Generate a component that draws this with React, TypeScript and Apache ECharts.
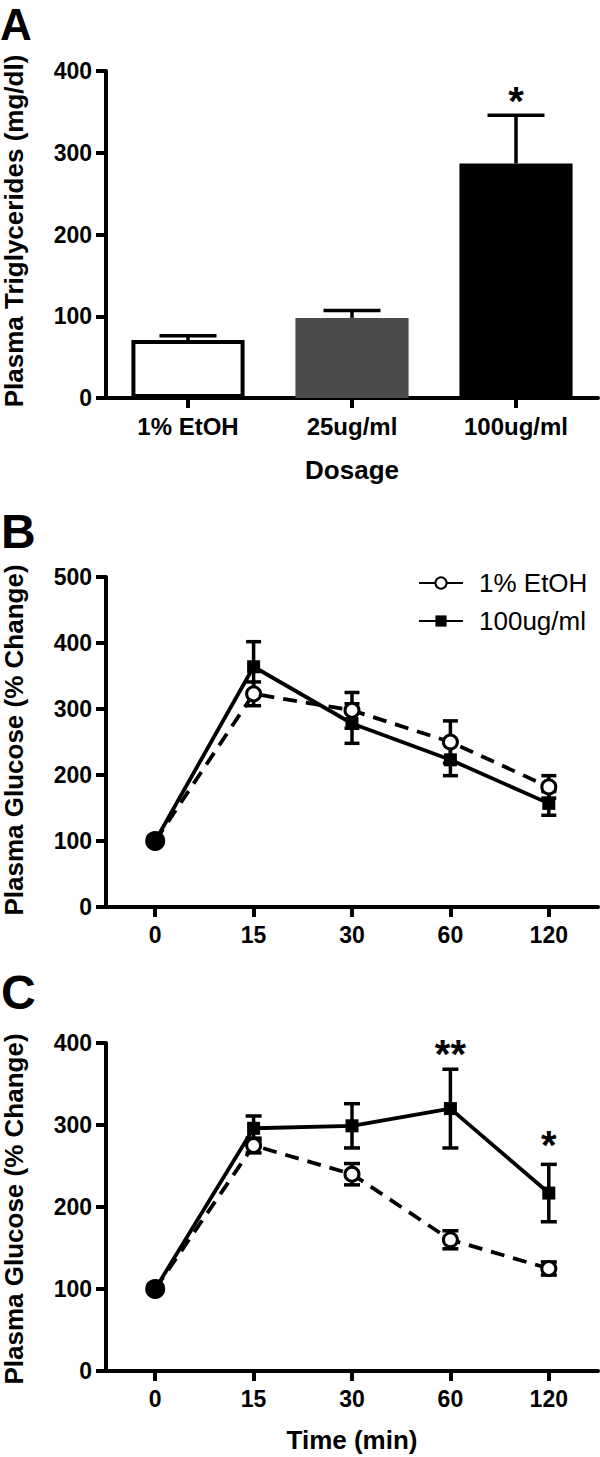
import React, { useEffect, useRef } from 'react';
import * as echarts from 'echarts';

// ---------- Panel A data ----------
const dosageCats = ['1% EtOH', '25ug/ml', '100ug/ml'];
const trigMean = [71, 98, 287];
const trigSem = [5, 9, 59];
const barColors = ['#ffffff', '#4b4b4b', '#000000'];
const sigA = [{ cat: 2, y: 363, text: '*' }];

// ---------- Panels B & C data ----------
const timeCats = ['0', '15', '30', '60', '120'];
const etohB = [100, 323, 298, 250, 182];
const etohBErr = [0, 18, 27, 32, 17];
const treatB = [100, 364, 278, 223, 157];
const treatBErr = [0, 38, 30, 24, 18];

const etohC = [100, 275, 240, 160, 125];
const etohCErr = [0, 9, 13, 11, 8];
const treatC = [100, 296, 299, 320, 217];
const treatCErr = [0, 15, 27, 48, 35];
const sigC = [
  { cat: 3, y: 387, text: '**' },
  { cat: 4, y: 276, text: '*' },
];

const FONT = '"Liberation Sans", Arial, Helvetica, sans-serif';

const axisLine = { show: true, lineStyle: { color: '#000', width: 4 } };
const axisTick = { show: true, length: 10, alignWithLabel: true, lineStyle: { color: '#000', width: 4 } };

function errorSeries(gridIdx: number, means: number[], errs: number[], cap: number, both: boolean) {
  return {
    type: 'custom',
    xAxisIndex: gridIdx,
    yAxisIndex: gridIdx,
    z: 2,
    silent: true,
    data: means.map((m, i) => [i, both ? m - errs[i] : m, m + errs[i]]),
    encode: { x: 0, y: [1, 2] },
    renderItem: (params: any, api: any) => {
      const x = api.value(0);
      const lo = api.value(1);
      const hi = api.value(2);
      if (hi === lo) return { type: 'group', children: [] };
      const pHi = api.coord([x, hi]);
      const pLo = api.coord([x, lo]);
      const hw = cap / 2;
      const st = { stroke: '#000', lineWidth: 3.5 };
      const children: any[] = [
        { type: 'line', shape: { x1: pHi[0], y1: pHi[1], x2: pLo[0], y2: pLo[1] }, style: st },
        { type: 'line', shape: { x1: pHi[0] - hw, y1: pHi[1], x2: pHi[0] + hw, y2: pHi[1] }, style: st },
      ];
      if (both) {
        children.push({ type: 'line', shape: { x1: pLo[0] - hw, y1: pLo[1], x2: pLo[0] + hw, y2: pLo[1] }, style: st });
      }
      return { type: 'group', children };
    },
  };
}

function sigSeries(gridIdx: number, sig: { cat: number; y: number; text: string }[]) {
  return {
    type: 'scatter',
    xAxisIndex: gridIdx,
    yAxisIndex: gridIdx,
    silent: true,
    symbolSize: 1,
    itemStyle: { color: 'rgba(255,255,255,0)', opacity: 1 },
    z: 5,
    data: sig.map((s) => [s.cat, s.y]),
    label: {
      show: true,
      position: 'inside',
      formatter: (p: any) => sig[p.dataIndex].text,
      fontSize: 40,
      fontWeight: 'bold',
      fontFamily: FONT,
      color: '#000',
      opacity: 1,
    },
  };
}

function lineSeries(gridIdx: number, name: string, vals: number[], open: boolean) {
  return {
    name,
    type: 'line',
    xAxisIndex: gridIdx,
    yAxisIndex: gridIdx,
    z: open ? 3 : 4,
    symbol: open ? 'circle' : 'rect',
    symbolSize: open ? 14 : 13,
    data: vals.map((v, i) =>
      open && i === 0 ? { value: v, symbolSize: 17, itemStyle: { color: '#000' } } : v
    ),
    itemStyle: open ? { color: '#fff', borderColor: '#000', borderWidth: 3 } : { color: '#000' },
    lineStyle: { color: '#000', width: 3.8, type: open ? [14, 9] : 'solid' },
  };
}

function catX(gridIdx: number, data: string[], fontSize: number) {
  return {
    gridIndex: gridIdx,
    type: 'category',
    data,
    axisLine,
    axisTick,
    axisLabel: { color: '#000', fontSize, fontWeight: 'bold', fontFamily: FONT, margin: 16 },
    splitLine: { show: false },
  };
}

function valY(gridIdx: number, max: number) {
  return {
    gridIndex: gridIdx,
    type: 'value',
    min: 0,
    max,
    interval: 100,
    axisLine,
    axisTick: { show: true, length: 10, lineStyle: { color: '#000', width: 4 } },
    axisLabel: { color: '#000', fontSize: 23, fontWeight: 'bold', fontFamily: FONT, margin: 14 },
    splitLine: { show: false },
  };
}

function txt(text: string, x: number, y: number, size: number, opts: any = {}) {
  return {
    type: 'text',
    x,
    y,
    rotation: opts.rotation || 0,
    style: {
      text,
      fontSize: size,
      fontWeight: opts.weight || 'bold',
      fontFamily: FONT,
      fill: '#000',
      align: opts.align || 'center',
      verticalAlign: 'middle',
    },
  };
}

export default function App() {
  const ref = useRef<HTMLDivElement>(null);
  useEffect(() => {
    document.body.style.margin = '0';
    if (!ref.current) return;
    const chart = echarts.init(ref.current, undefined, { renderer: 'svg' });
    const option: any = {
      animation: false,
      backgroundColor: '#fff',
      grid: [
        { left: 106, top: 71, width: 492, height: 327 },
        { left: 106, top: 577, width: 492, height: 330 },
        { left: 106, top: 1043, width: 492, height: 328 },
      ],
      xAxis: [catX(0, dosageCats, 24), catX(1, timeCats, 23), catX(2, timeCats, 23)],
      yAxis: [valY(0, 400), valY(1, 500), valY(2, 400)],
      legend: {
        data: [
          { name: '1% EtOH', lineStyle: { type: 'solid' } },
          { name: '100ug/ml' },
        ],
        orient: 'vertical',
        left: 413,
        top: 565,
        itemWidth: 44,
        itemHeight: 14,
        itemGap: 12,
        selectedMode: false,
        textStyle: { fontSize: 26, fontFamily: FONT, color: '#000', padding: [0, 0, 0, 11] },
      },
      series: [
        {
          type: 'bar',
          xAxisIndex: 0,
          yAxisIndex: 0,
          barWidth: '69%',
          z: 1,
          data: trigMean.map((v, i) => ({
            value: v,
            itemStyle: { color: barColors[i], borderColor: '#000', borderWidth: i === 0 ? 4 : 0 },
          })),
        },
        errorSeries(0, trigMean, trigSem, 57, false),
        sigSeries(0, sigA),
        errorSeries(1, etohB, etohBErr, 15, true),
        errorSeries(1, treatB, treatBErr, 15, true),
        lineSeries(1, '1% EtOH', etohB, true),
        lineSeries(1, '100ug/ml', treatB, false),
        errorSeries(2, etohC, etohCErr, 16, true),
        errorSeries(2, treatC, treatCErr, 16, true),
        lineSeries(2, '1% EtOH', etohC, true),
        lineSeries(2, '100ug/ml', treatC, false),
        sigSeries(2, sigC),
      ],
      graphic: [
        txt('A', 0, 24, 44, { align: 'left' }),
        txt('B', 1, 531, 48, { align: 'left' }),
        txt('C', 1, 992, 48, { align: 'left' }),
        txt('Plasma Triglycerides (mg/dl)', 14, 231, 26, { rotation: Math.PI / 2 }),
        txt('Plasma Glucose (% Change)', 14, 740, 26, { rotation: Math.PI / 2 }),
        txt('Plasma Glucose (% Change)', 14, 1209, 26, { rotation: Math.PI / 2 }),
        txt('Dosage', 352, 470, 26),
        txt('Time (min)', 352, 1440, 26),
      ],
    };
    chart.setOption(option);
    return () => chart.dispose();
  }, []);
  return <div ref={ref} style={{ width: 600, height: 1457 }} />;
}
